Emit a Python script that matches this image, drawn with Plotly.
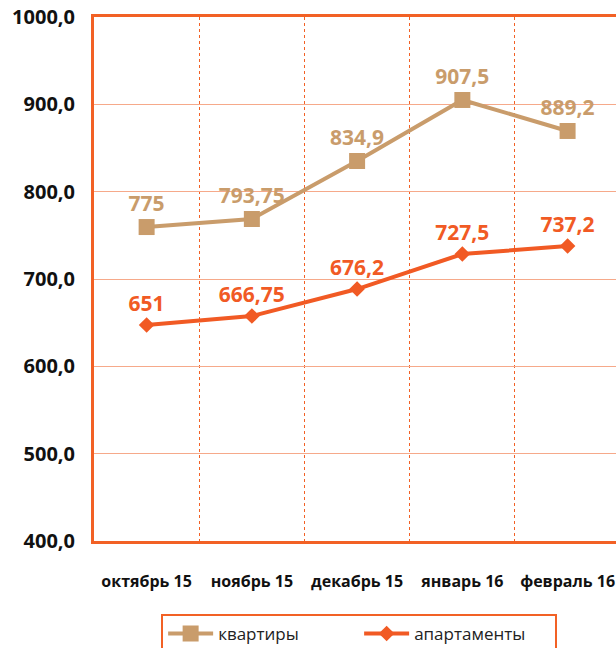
import plotly.graph_objects as go

months = ["октябрь 15", "ноябрь 15", "декабрь 15", "январь 16", "февраль 16"]
flats_values = [759.5, 768.7, 835.1, 905.0, 869.5]
flats_labels = ["775", "793,75", "834,9", "907,5", "889,2"]
apart_values = [647.3, 657.6, 688.5, 728.6, 737.8]
apart_labels = ["651", "666,75", "676,2", "727,5", "737,2"]

TAN = "#C99C6B"
ORANGE = "#F15A24"
FRAME = "#F26125"
GRID = "#F6A98A"
FONT = "Open Sans"

fig = go.Figure()
fig.add_trace(go.Scatter(
    x=months, y=flats_values, name="квартиры", mode="lines+markers+text",
    line=dict(color=TAN, width=4),
    marker=dict(symbol="square", size=16, color=TAN),
    text=flats_labels, textposition="top center",
    textfont=dict(family=FONT, size=21, color=TAN, weight="bold"),
))
fig.add_trace(go.Scatter(
    x=months, y=apart_values, name="апартаменты", mode="lines+markers+text",
    line=dict(color=ORANGE, width=4),
    marker=dict(symbol="diamond", size=12, color=ORANGE),
    text=apart_labels, textposition="top center",
    textfont=dict(family=FONT, size=21, color=ORANGE, weight="bold"),
))

fig.update_layout(
    width=616, height=648,
    margin=dict(l=94, r=0, t=17, b=107, autoexpand=False),
    paper_bgcolor="white", plot_bgcolor="white",
    separators=", ",
    font=dict(family=FONT, color="#111111"),
    showlegend=True,
    legend=dict(
        orientation="h", xref="container", x=0.583, xanchor="center",
        yref="container", y=0.0525, yanchor="top",
        bordercolor=FRAME, borderwidth=2, bgcolor="white",
        font=dict(family=FONT, size=17, color="#222222"),
        entrywidth=136, entrywidthmode="pixels", itemwidth=45,
    ),
)
fig.update_xaxes(
    type="category", range=[-0.5, 4.46],
    showline=True, linecolor=FRAME, linewidth=3, mirror=True,
    showgrid=True, gridcolor=FRAME, gridwidth=1, griddash="dot",
    tickson="boundaries", ticks="",
    tickfont=dict(family=FONT, size=16, color="#111111", weight="bold"),
    ticklabelstandoff=24,
    zeroline=False,
)
fig.update_yaxes(
    range=[400, 1000], dtick=100, tick0=400, tickformat=".1f",
    showline=True, linecolor=FRAME, linewidth=3,
    showgrid=True, gridcolor=GRID, gridwidth=1.2,
    ticks="", ticklabelstandoff=12,
    tickfont=dict(family=FONT, size=20, color="#111111", weight="bold"),
    zeroline=False,
)

fig.write_html(
    "out.html",
    config={"displayModeBar": False},
    post_script="document.body.style.margin='0';document.body.style.overflow='hidden';",
)
